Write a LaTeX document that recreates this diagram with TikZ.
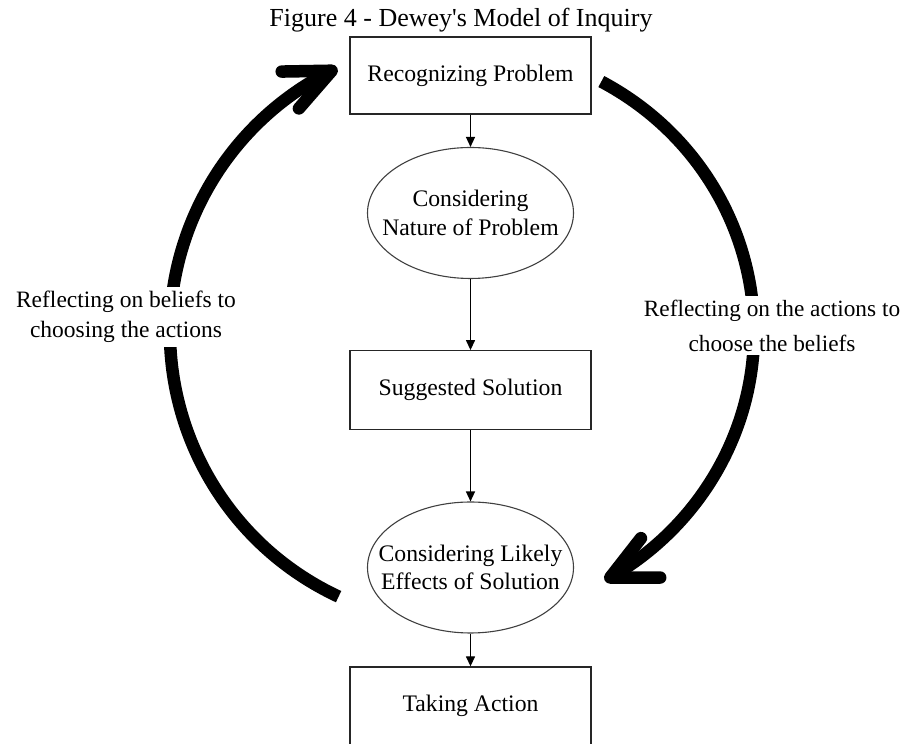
\documentclass[tikz,border=0pt]{standalone}
\usepackage{fontspec}
\setmainfont{Liberation Serif}
\usetikzlibrary{shapes.geometric,arrows.meta,calc}

\begin{document}
\begin{tikzpicture}[x=1pt,y=1pt,
  bodytext/.style={font=\fontsize{23.7}{28}\selectfont},
  stepbox/.style={draw=black!85, line width=1.3pt, minimum width=241pt,
    minimum height=77pt, inner sep=0pt, bodytext},
  stepoval/.style={ellipse, draw=black!75, line width=1.1pt,
    minimum width=206pt, minimum height=131pt, inner sep=0pt},
  ovaltext/.style={align=center, inner sep=0pt},
  flow/.style={line width=1.3pt, -{Triangle[length=10pt,width=9pt]}},
  loop/.style={line width=12.5pt, line cap=butt},
  barb/.style={line width=12.5pt, line cap=round, line join=round},
  looplabel/.style={fill=white, align=center, inner xsep=2pt, inner ysep=4pt}]

\useasboundingbox (0,0) rectangle (906,744);

% caption
\node[anchor=base, font=\fontsize{26}{30}\selectfont] (title) at (461,717)
  {Figure 4 - Dewey\textquotesingle s Model of Inquiry};

% the five stages of inquiry
\node[stepbox] (recog) at (470.5,668.5) {Recognizing Problem};
\node[stepoval] (nature) at (470.5,531) {};
\node[ovaltext, font=\fontsize{23.7}{29}\selectfont] (naturetext) at (nature.center)
  {Considering\\Nature of Problem};
\node[stepbox, minimum height=78.5pt] (suggest) at (470.5,354) {Suggested Solution};
\node[stepoval] (effects) at (470.5,176.5) {};
\node[ovaltext, font=\fontsize{23.7}{28}\selectfont] (effectstext) at (effects.center)
  {Considering Likely\\Effects of Solution};
\node[stepbox, minimum height=78pt] (action) at (470.5,38) {Taking Action};

\draw[flow] (recog) -- (nature);
\draw[flow] (nature) -- (suggest);
\draw[flow] (suggest) -- (effects);
\draw[flow] (effects) -- (action);

% reflective loops around the sequence
\coordinate (hub) at (462,412);
\draw[loop] ($(hub)+(245:292)$) arc[start angle=245, end angle=116.5, radius=292]
  coordinate (tipL);
\draw[barb] ($(tipL)+(181:50)$) -- (tipL) -- ($(tipL)+(229:50)$);

\draw[loop] ($(hub)+({292*cos(61.5)},{285*sin(61.5)})$)
  arc[start angle=61.5, end angle=-59.5, x radius=292, y radius=285]
  coordinate (tipR);
\draw[barb] ($(tipR)+(0:50)$) -- (tipR) -- ($(tipR)+(52:50)$);

\node[looplabel, font=\fontsize{23.5}{30}\selectfont] (leftnote) at (126,427)
  {Reflecting on beliefs to\\choosing the actions};
\node[looplabel, font=\fontsize{23.3}{35}\selectfont] (rightnote) at (772,418.5)
  {Reflecting on the actions to\\choose the beliefs};
\end{tikzpicture}
\end{document}
